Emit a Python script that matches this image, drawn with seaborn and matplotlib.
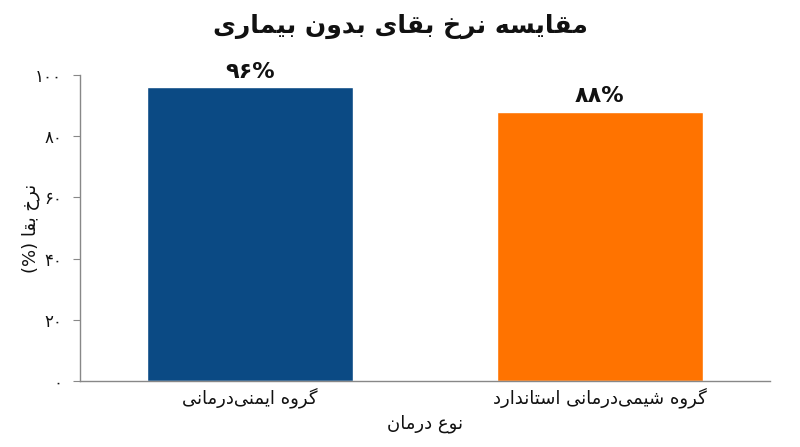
import numpy as np
import pandas as pd
import matplotlib
matplotlib.use("Agg")
import matplotlib.pyplot as plt
import seaborn as sns

# data
groups = ['گروه ایمنی\u200cدرمانی', 'گروه شیمی\u200cدرمانی استاندارد']
survival = [96, 88]
bar_labels = ['۹۶%', '۸۸%']
y_ticks = [0, 20, 40, 60, 80, 100]
y_tick_labels = ['۰', '۲۰', '۴۰', '۶۰', '۸۰', '۱۰۰']
colors = ['#0B4A84', '#FF7300']

title = 'مقایسه نرخ بقای بدون بیماری'
x_title = 'نوع درمان'
y_title = 'نرخ بقا (%)'

# matplotlib has no arabic shaping, so pick presentation forms by hand
# (isolated, final, initial, medial); right-joining letters have only two
FORMS = {
    'ا': ('\uFE8D', '\uFE8E'),
    'ب': ('\uFE8F', '\uFE90', '\uFE91', '\uFE92'),
    'ت': ('\uFE95', '\uFE96', '\uFE97', '\uFE98'),
    'خ': ('\uFEA5', '\uFEA6', '\uFEA7', '\uFEA8'),
    'د': ('\uFEA9', '\uFEAA'),
    'ر': ('\uFEAD', '\uFEAE'),
    'س': ('\uFEB1', '\uFEB2', '\uFEB3', '\uFEB4'),
    'ش': ('\uFEB5', '\uFEB6', '\uFEB7', '\uFEB8'),
    'ع': ('\uFEC9', '\uFECA', '\uFECB', '\uFECC'),
    'ق': ('\uFED5', '\uFED6', '\uFED7', '\uFED8'),
    'م': ('\uFEE1', '\uFEE2', '\uFEE3', '\uFEE4'),
    'ن': ('\uFEE5', '\uFEE6', '\uFEE7', '\uFEE8'),
    'ه': ('\uFEE9', '\uFEEA', '\uFEEB', '\uFEEC'),
    'و': ('\uFEED', '\uFEEE'),
    'ی': ('\uFBFC', '\uFBFD', '\uFBFE', '\uFBFF'),
    'گ': ('\uFB92', '\uFB93', '\uFB94', '\uFB95'),
}


def fa(text):
    out = []
    for i, ch in enumerate(text):
        if ch not in FORMS:
            if ch != '\u200c':
                out.append(ch)
            continue
        prev = text[i - 1] if i > 0 else ''
        nxt = text[i + 1] if i + 1 < len(text) else ''
        join_prev = prev in FORMS and len(FORMS[prev]) == 4
        join_next = len(FORMS[ch]) == 4 and nxt in FORMS
        f = FORMS[ch]
        if join_prev and join_next:
            out.append(f[3])
        elif join_prev:
            out.append(f[1])
        elif join_next:
            out.append(f[2])
        else:
            out.append(f[0])
    vis = ''.join(reversed(out))
    return vis.translate(str.maketrans('()', ')('))


sns.set_style('white')
plt.rcParams['font.family'] = ['DejaVu Sans']
plt.rcParams['text.color'] = '#111111'
plt.rcParams['axes.labelcolor'] = '#111111'
plt.rcParams['xtick.labelcolor'] = '#111111'
plt.rcParams['ytick.labelcolor'] = '#111111'

df = pd.DataFrame({'group': [fa(g) for g in groups], 'value': survival})

fig = plt.figure(figsize=(8, 4.47), dpi=100)
ax = fig.add_axes([0.1, 0.148, 0.8625, 0.684])

sns.barplot(data=df, x='group', y='value', hue='group', palette=colors,
            width=0.59, legend=False, ax=ax, saturation=1)

for i, (v, lab) in enumerate(zip(survival, bar_labels)):
    ax.annotate(lab, (i, v), xytext=(0, 4), textcoords='offset points',
                ha='center', va='bottom', fontsize=16, fontweight='semibold')

ax.set_xlim(-0.486, 1.486)
ax.set_ylim(0, 100)
ax.set_yticks(y_ticks)
ax.set_yticklabels(y_tick_labels, fontsize=12)
ax.tick_params(axis='x', length=0, labelsize=13, pad=5)
ax.tick_params(axis='y', length=5, color='#888888', left=True, pad=8)

ax.set_xlabel(fa(x_title), fontsize=13, labelpad=4)
ax.set_ylabel(fa(y_title), fontsize=13)
ax.yaxis.set_label_coords(-0.058, 0.5)

sns.despine(ax=ax)
for s in ['left', 'bottom']:
    ax.spines[s].set_color('#888888')
    ax.spines[s].set_linewidth(1)

fig.suptitle(fa(title), x=0.5, y=0.97, fontsize=18, fontweight='bold')

fig.savefig('out.png', dpi=100)
